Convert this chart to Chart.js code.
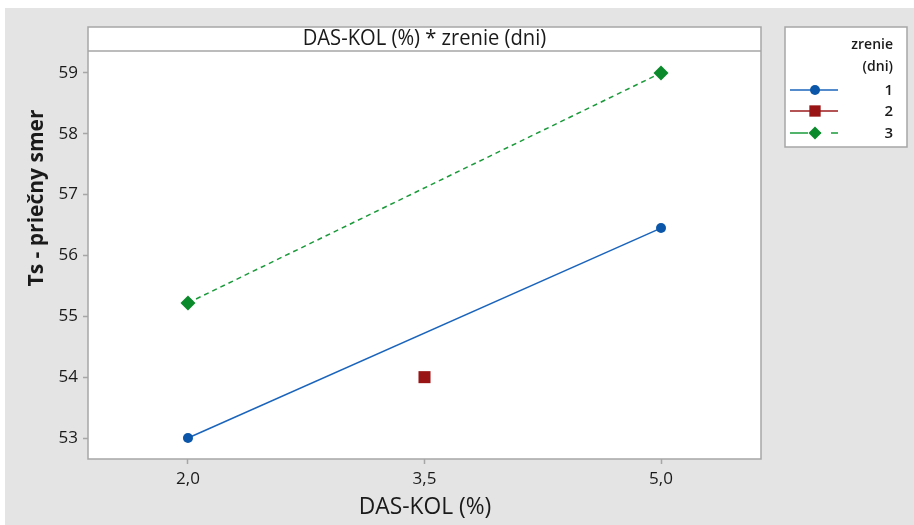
<!DOCTYPE html>
<html>
<head>
<meta charset="utf-8">
<script src="https://cdn.jsdelivr.net/npm/chart.js@4"></script>
<style>
  html, body { margin: 0; padding: 0; background: #ffffff; }
  #wrap { width: 914px; height: 525px; position: relative; }
</style>
</head>
<body>
<div id="wrap"><canvas id="chart" width="914" height="525"></canvas></div>
<script>
// values
const xTicks = [2.0, 3.5, 5.0];
const xTickLabels = ["2,0", "3,5", "5,0"];
const yTicks = [53, 54, 55, 56, 57, 58, 59];

const dasKol = [2.0, 5.0];
const zrenie1 = [53.0, 56.45];
const dasKol2 = [3.5];
const zrenie2 = [54.0];
const zrenie3 = [55.22, 59.0];

const seriesNames = ["1", "2", "3"];

const toPoints = (xs, ys) => xs.map((x, i) => ({ x: x, y: ys[i] }));

const FONT = "'Open Sans', 'DejaVu Sans', sans-serif";
const TEXT = "#1a1a1a";
const FRAME = "#a6a6a6";

// draws text squeezed a little, the reference font is narrower than Open Sans
function narrowText(ctx, str, x, y, sx) {
  ctx.save();
  ctx.translate(x, y);
  ctx.scale(sx, 1);
  ctx.fillText(str, 0, 0);
  ctx.restore();
}

const minitabPlugin = {
  id: "minitab",
  beforeDraw(chart) {
    const ctx = chart.ctx;
    const a = chart.chartArea;
    ctx.save();
    ctx.fillStyle = "#ffffff";
    ctx.fillRect(0, 0, chart.width, chart.height);
    ctx.fillStyle = "#e4e4e4";
    ctx.fillRect(5, 8, chart.width - 5, chart.height - 8);
    // plot area + title bar
    ctx.fillStyle = "#ffffff";
    ctx.fillRect(a.left, 27, a.right - a.left, a.bottom - 27);
    // legend box
    ctx.fillRect(785, 27, 122, 120);
    ctx.restore();
  },
  afterDraw(chart) {
    const ctx = chart.ctx;
    const a = chart.chartArea;
    ctx.save();
    ctx.strokeStyle = FRAME;
    ctx.lineWidth = 1.5;
    ctx.strokeRect(a.left, 27, a.right - a.left, a.bottom - 27);
    ctx.beginPath();
    ctx.moveTo(a.left, a.top);
    ctx.lineTo(a.right, a.top);
    ctx.stroke();
    ctx.strokeRect(785, 27, 122, 120);

    // panel title
    ctx.fillStyle = TEXT;
    ctx.textAlign = "center";
    ctx.textBaseline = "middle";
    ctx.font = "21px " + FONT;
    narrowText(ctx, "DAS-KOL (%) * zrenie (dni)", (a.left + a.right) / 2, 39, 0.96);

    // axis titles
    ctx.font = "24px " + FONT;
    narrowText(ctx, "DAS-KOL (%)", 425, 507, 0.95);
    ctx.save();
    ctx.translate(37, 198);
    ctx.rotate(-Math.PI / 2);
    ctx.font = "bold 21px " + FONT;
    ctx.fillText("Ts - priečny smer", 0, 0);
    ctx.restore();

    // legend
    ctx.textAlign = "right";
    ctx.font = "600 14px " + FONT;
    ctx.fillText("zrenie", 893, 45);
    ctx.fillText("(dni)", 893, 67);
    ctx.font = "600 15px " + FONT;
    const rows = [90, 111, 133];
    chart.data.datasets.forEach((ds, i) => {
      const y = rows[i];
      ctx.save();
      ctx.strokeStyle = ds.borderColor;
      ctx.lineWidth = 1.5;
      ctx.setLineDash(i === 2 ? [18, 7, 6, 10] : []);
      ctx.beginPath();
      ctx.moveTo(790, y);
      ctx.lineTo(838, y);
      ctx.stroke();
      ctx.restore();
      ctx.fillStyle = ds.pointBackgroundColor;
      ctx.strokeStyle = ds.pointBackgroundColor;
      Chart.helpers.drawPoint(ctx, {
        pointStyle: ds.pointStyle,
        radius: ds.legendRadius,
        rotation: 0,
        borderWidth: 0
      }, 815, y);
      ctx.fillStyle = TEXT;
      ctx.fillText(ds.label, 893, y + 1);
    });
    ctx.restore();
  }
};

new Chart(document.getElementById("chart"), {
  type: "line",
  data: {
    datasets: [
      {
        label: seriesNames[0],
        data: toPoints(dasKol, zrenie1),
        borderColor: "#1a64bc",
        borderWidth: 1.5,
        pointStyle: "circle",
        pointRadius: 5,
        legendRadius: 5,
        pointBackgroundColor: "#0b56a8",
        pointBorderColor: "#0b56a8",
        pointBorderWidth: 0
      },
      {
        label: seriesNames[1],
        data: toPoints(dasKol2, zrenie2),
        borderColor: "#9b1b1b",
        borderWidth: 1.5,
        showLine: false,
        pointStyle: "rect",
        pointRadius: 8.5,
        legendRadius: 8,
        pointBackgroundColor: "#991515",
        pointBorderColor: "#991515",
        pointBorderWidth: 0
      },
      {
        label: seriesNames[2],
        data: toPoints(dasKol, zrenie3),
        borderColor: "#1a9a3a",
        borderWidth: 1.5,
        borderDash: [5, 4],
        pointStyle: "rectRot",
        pointRadius: 7.5,
        legendRadius: 6.5,
        pointBackgroundColor: "#0a8a2a",
        pointBorderColor: "#0a8a2a",
        pointBorderWidth: 0
      }
    ]
  },
  options: {
    responsive: false,
    animation: false,
    layout: { padding: { top: 51, right: 153, left: 0, bottom: 0 } },
    plugins: {
      legend: { display: false },
      title: { display: false },
      tooltip: { enabled: false }
    },
    scales: {
      x: {
        type: "linear",
        min: 1.366,
        max: 5.634,
        afterFit: (s) => { s.height = 66; },
        afterBuildTicks: (s) => { s.ticks = xTicks.map((v) => ({ value: v })); },
        ticks: {
          padding: 5,
          color: TEXT,
          font: { family: FONT, size: 17 },
          callback: (v) => xTickLabels[xTicks.indexOf(v)]
        },
        grid: {
          drawOnChartArea: false,
          drawTicks: true,
          tickLength: 5,
          tickColor: FRAME,
          tickWidth: 1.5
        },
        border: { display: false }
      },
      y: {
        type: "linear",
        min: 52.655,
        max: 59.36,
        afterFit: (s) => { s.width = 88; },
        afterBuildTicks: (s) => { s.ticks = yTicks.map((v) => ({ value: v })); },
        ticks: {
          padding: 5,
          color: TEXT,
          font: { family: FONT, size: 17 }
        },
        grid: {
          drawOnChartArea: false,
          drawTicks: true,
          tickLength: 5,
          tickColor: FRAME,
          tickWidth: 1.5
        },
        border: { display: false }
      }
    }
  },
  plugins: [minitabPlugin]
});
</script>
</body>
</html>
